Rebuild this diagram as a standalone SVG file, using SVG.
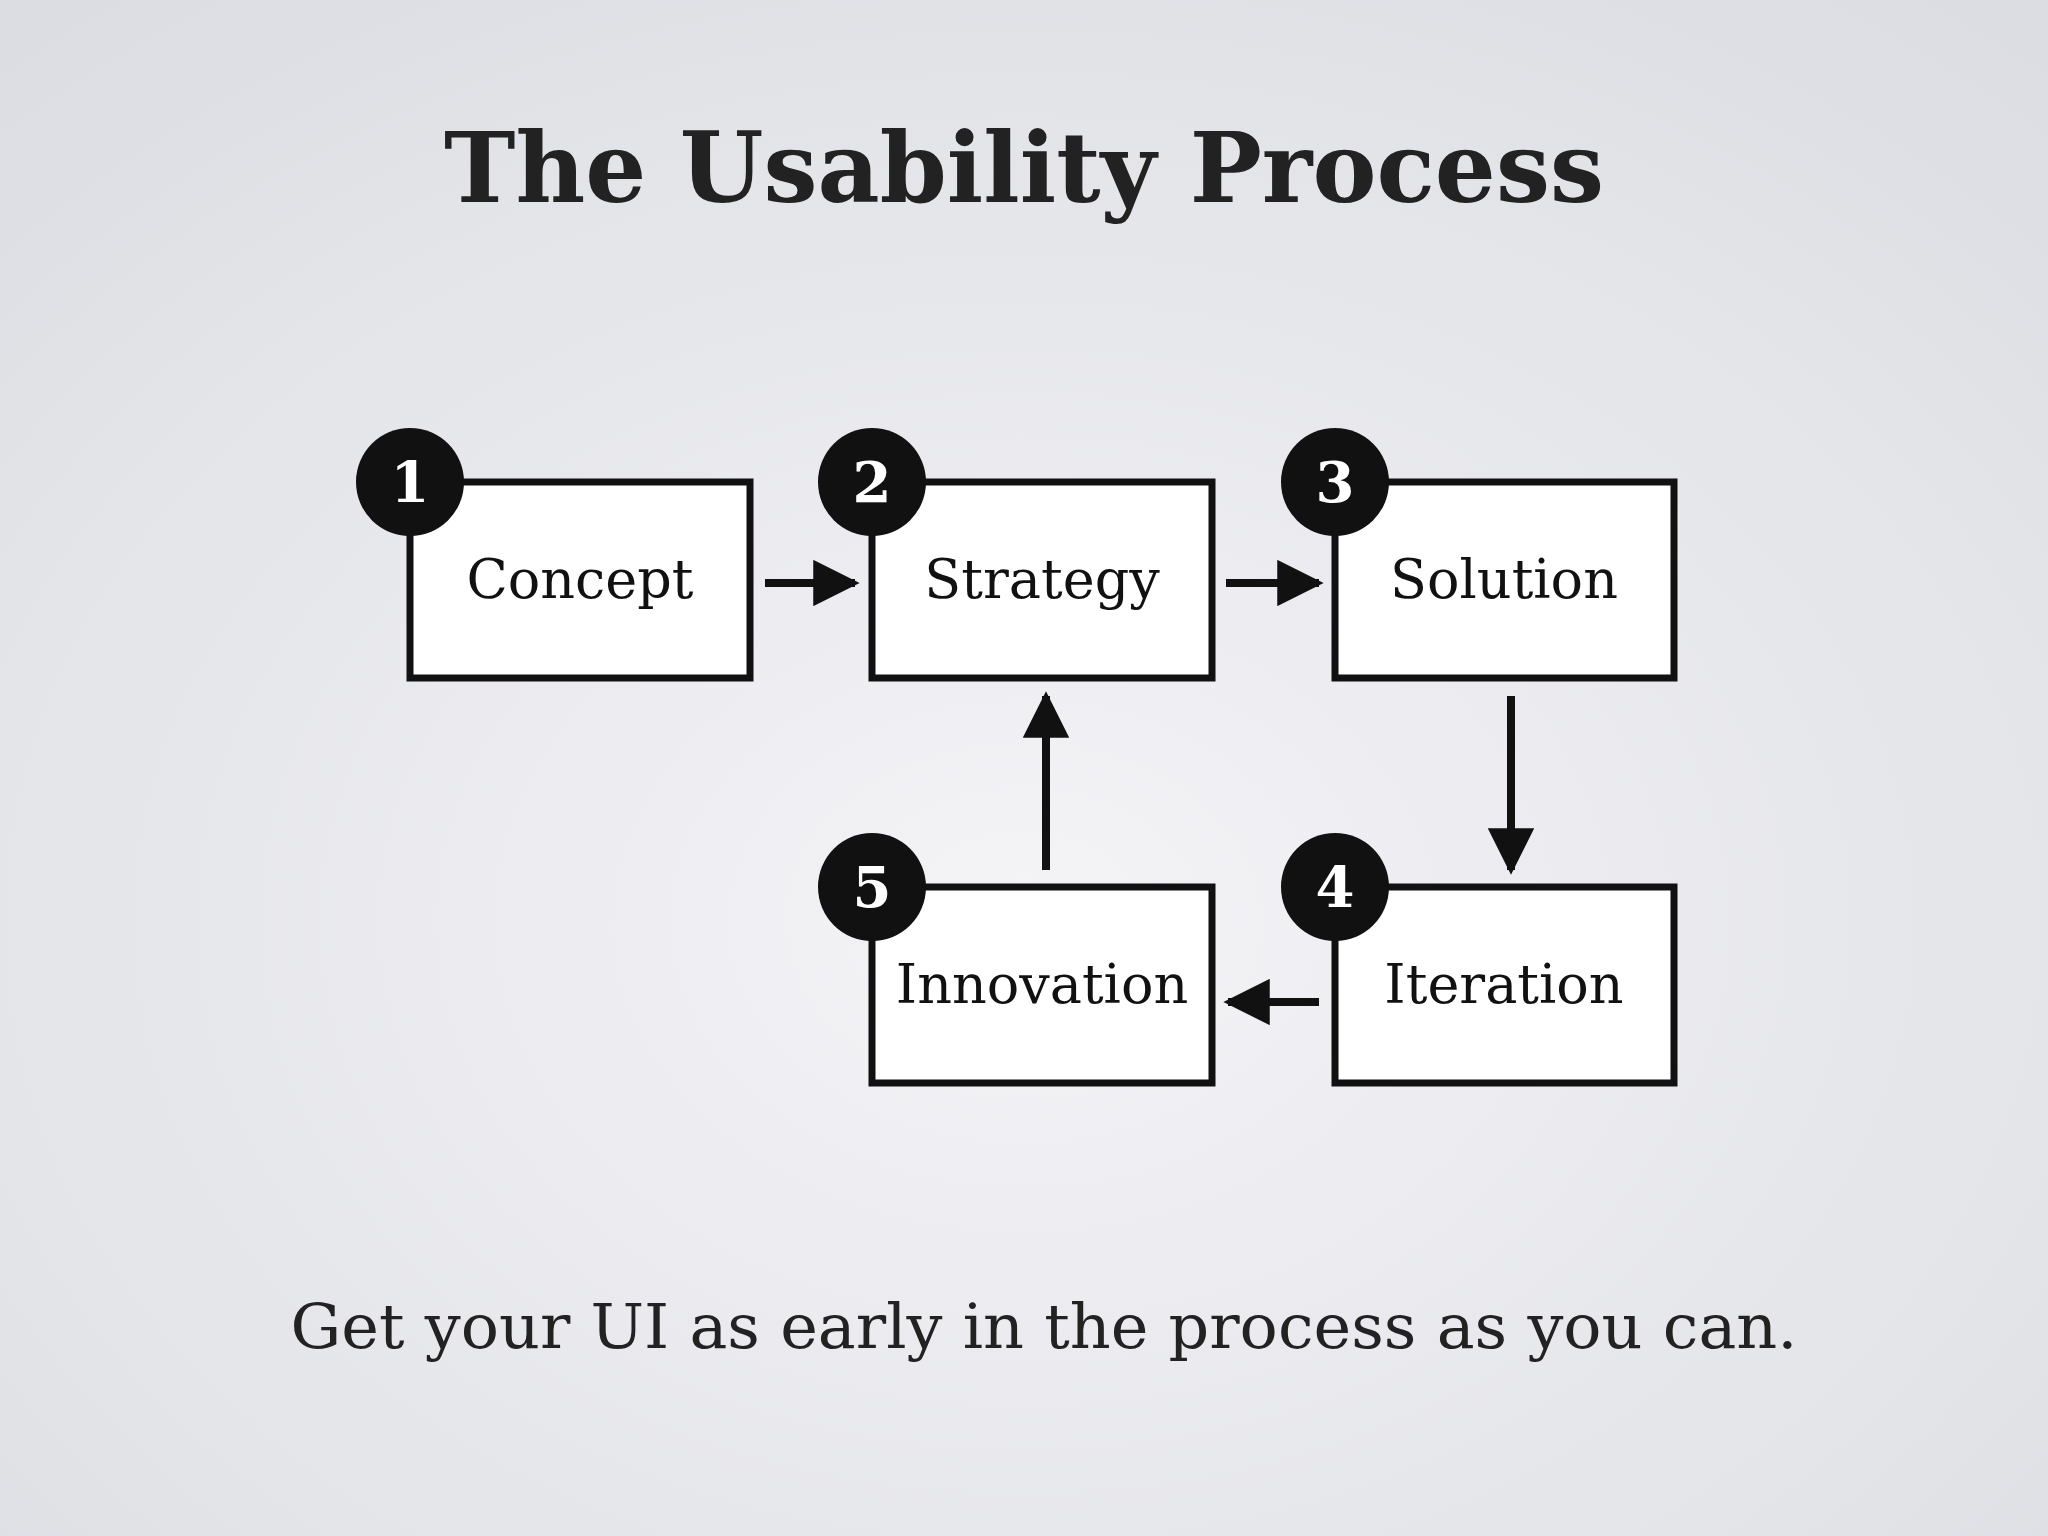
<svg xmlns="http://www.w3.org/2000/svg" width="2048" height="1536" viewBox="0 0 2048 1536">
<defs>
<radialGradient id="bg" cx="50%" cy="60%" r="75%">
<stop offset="0" stop-color="#f4f4f7"/><stop offset="1" stop-color="#dcdde2"/>
</radialGradient>
<marker id="ah" viewBox="0 0 10 10" refX="9" refY="5" markerWidth="5.8" markerHeight="5.8" orient="auto" markerUnits="strokeWidth"><path d="M0,0 L10,5 L0,10 z" fill="#111"/></marker>
<style>
.box{fill:#fff;stroke:#111;stroke-width:7}
.lbl{font-family:"DejaVu Serif","Liberation Serif",serif;font-size:54px;fill:#111;text-anchor:middle}
.num{font-family:"DejaVu Serif",serif;font-weight:bold;font-size:56px;fill:#fff;text-anchor:middle}
.c{fill:#111}
.con line{stroke:#111;stroke-width:8}
</style>
</defs>
<rect width="2048" height="1536" fill="url(#bg)"/>
<text x="1024" y="202" font-family="DejaVu Serif,serif" font-weight="bold" font-size="98" fill="#222" text-anchor="middle" textLength="1160" lengthAdjust="spacingAndGlyphs">The Usability Process</text>
<g id="n1"><rect class="box" x="410" y="482" width="340" height="196"/><circle class="c" cx="410" cy="482" r="54"/><text class="num" x="410" y="502">1</text><text class="lbl" x="580" y="598">Concept</text></g>
<g id="n2"><rect class="box" x="872" y="482" width="340" height="196"/><circle class="c" cx="872" cy="482" r="54"/><text class="num" x="872" y="502">2</text><text class="lbl" x="1042" y="598">Strategy</text></g>
<g id="n3"><rect class="box" x="1335" y="482" width="339" height="196"/><circle class="c" cx="1335" cy="482" r="54"/><text class="num" x="1335" y="502">3</text><text class="lbl" x="1504" y="598">Solution</text></g>
<g id="n4"><rect class="box" x="1335" y="887" width="339" height="196"/><circle class="c" cx="1335" cy="887" r="54"/><text class="num" x="1335" y="907">4</text><text class="lbl" x="1504" y="1003">Iteration</text></g>
<g id="n5"><rect class="box" x="872" y="887" width="340" height="196"/><circle class="c" cx="872" cy="887" r="54"/><text class="num" x="872" y="907">5</text><text class="lbl" x="1042" y="1003">Innovation</text></g>
<g id="connectors" class="con">
<line x1="765" y1="583" x2="855" y2="583" marker-end="url(#ah)"/>
<line x1="1226" y1="583" x2="1319" y2="583" marker-end="url(#ah)"/>
<line x1="1511" y1="696" x2="1511" y2="870" marker-end="url(#ah)"/>
<line x1="1319" y1="1002" x2="1228" y2="1002" marker-end="url(#ah)"/>
<line x1="1046" y1="870" x2="1046" y2="696" marker-end="url(#ah)"/>
</g>
<text x="1044" y="1348" font-family="DejaVu Serif,serif" font-size="62" fill="#222" text-anchor="middle" textLength="1507" lengthAdjust="spacingAndGlyphs">Get your UI as early in the process as you can.</text>
</svg>
